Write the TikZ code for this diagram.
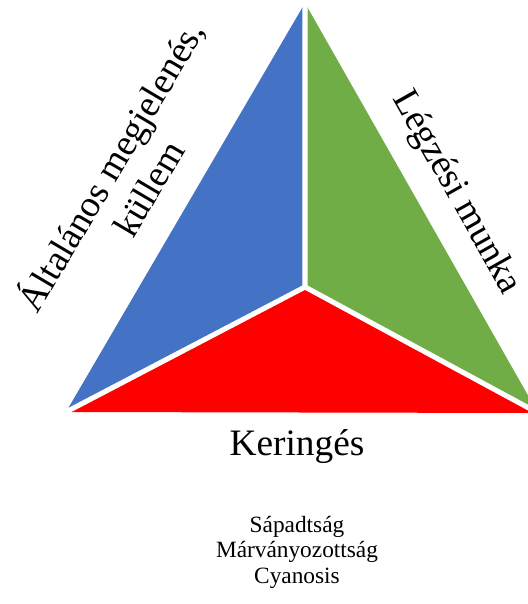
\documentclass[tikz,border=0pt]{standalone}
\usepackage{fontspec}
\setmainfont{Liberation Serif}
\definecolor{triblue}{HTML}{4472C4}
\definecolor{trigreen}{HTML}{70AD47}
\definecolor{trired}{HTML}{FF0000}
\begin{document}
\begin{tikzpicture}[x=.75pt,y=-.75pt,line width=.35pt]
\useasboundingbox (0,0) rectangle (528,604);
\coordinate (T) at (305,3);
\coordinate (L) at (66,412);
\coordinate (R) at (538,413);
\coordinate (M) at (305,287);
\begin{scope}
\clip (0,0) rectangle (528,604);
\fill[triblue] (T)--(L)--(M)--cycle;
\fill[trigreen] (T)--(R)--(M)--cycle;
\fill[trired] (L)--(R)--(M)--cycle;
\draw[white,line width=3.8pt] (M)--(T) (M)--(L) (M)--(R);
\end{scope}
\node[rotate=59.4,align=center,font=\fontsize{28}{33}\selectfont] (gen) at (127,176) {Általános megjelenés,\\küllem};
\node[rotate=-60.6,font=\fontsize{28}{33}\selectfont] (resp) at (456,193) {Légzési munka};
\node[anchor=base,font=\fontsize{28}{33}\selectfont] (circ) at (297,455) {Keringés};
\node[align=center,inner sep=0pt,font=\fontsize{17.5}{19.2}\selectfont] (signs) at (297,552) {Sápadtság\\Márványozottság\\Cyanosis};
\end{tikzpicture}
\end{document}
